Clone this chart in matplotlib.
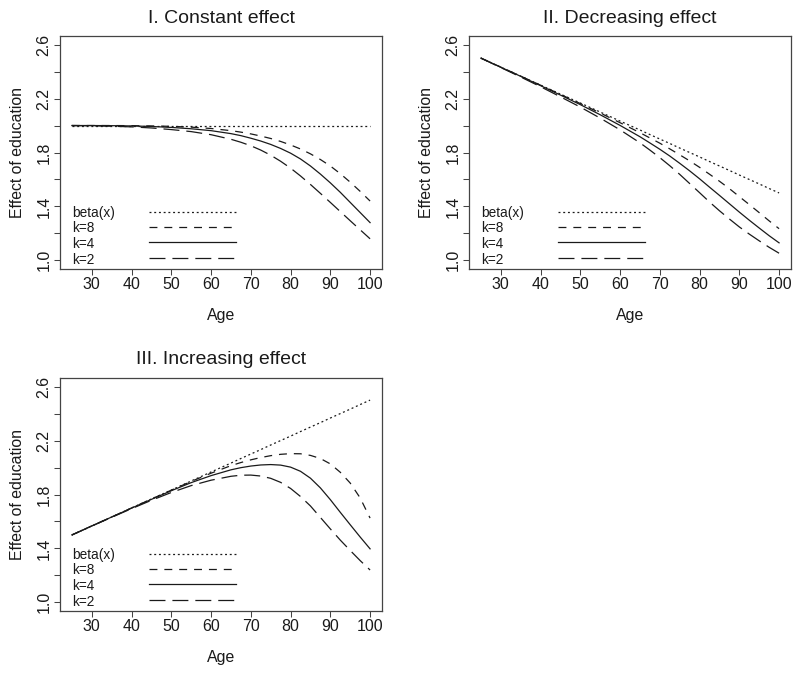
import matplotlib
matplotlib.use("Agg")
import matplotlib.pyplot as plt

plt.rcParams['font.family'] = ['Liberation Sans', 'DejaVu Sans']
plt.rcParams['lines.scale_dashes'] = False

ages = [25, 30, 35, 40, 45, 50, 55, 60, 65, 67.5, 70, 72.5, 75, 77.5, 80,
        82.5, 85, 87.5, 90, 92.5, 95, 97.5, 100]

# I. Constant effect
const_beta = [2.000, 2.000, 2.000, 2.000, 2.000, 2.000, 2.000, 2.000, 2.000, 2.000, 2.000, 2.000,
              2.000, 2.000, 2.000, 2.000, 2.000, 2.000, 2.000, 2.000, 2.000, 2.000, 2.000]
const_k8 = [2.000, 2.000, 2.000, 1.999, 1.997, 1.994, 1.988, 1.978, 1.962, 1.951, 1.938, 1.922,
            1.904, 1.882, 1.856, 1.826, 1.790, 1.748, 1.700, 1.643, 1.580, 1.512, 1.440]
const_k4 = [2.000, 2.000, 1.999, 1.997, 1.993, 1.986, 1.976, 1.962, 1.940, 1.925, 1.906, 1.885,
            1.860, 1.830, 1.795, 1.752, 1.700, 1.640, 1.575, 1.505, 1.430, 1.355, 1.280]
const_k2 = [2.000, 1.998, 1.995, 1.990, 1.982, 1.970, 1.955, 1.932, 1.898, 1.876, 1.850, 1.818,
            1.780, 1.735, 1.684, 1.626, 1.563, 1.497, 1.430, 1.362, 1.294, 1.227, 1.160]

# II. Decreasing effect
dec_beta = [2.500, 2.433, 2.367, 2.300, 2.233, 2.167, 2.100, 2.033, 1.967, 1.933, 1.900, 1.867,
            1.833, 1.800, 1.767, 1.733, 1.700, 1.667, 1.633, 1.600, 1.567, 1.533, 1.500]
dec_k8 = [2.500, 2.433, 2.366, 2.299, 2.231, 2.163, 2.093, 2.021, 1.947, 1.908, 1.869, 1.827,
          1.783, 1.738, 1.690, 1.639, 1.587, 1.532, 1.473, 1.414, 1.354, 1.293, 1.235]
dec_k4 = [2.500, 2.432, 2.365, 2.296, 2.226, 2.155, 2.080, 2.001, 1.917, 1.871, 1.824, 1.774,
          1.720, 1.664, 1.605, 1.543, 1.482, 1.420, 1.358, 1.298, 1.240, 1.183, 1.130]
dec_k2 = [2.500, 2.430, 2.360, 2.288, 2.213, 2.137, 2.055, 1.968, 1.872, 1.818, 1.762, 1.702,
          1.638, 1.570, 1.502, 1.433, 1.368, 1.307, 1.248, 1.195, 1.145, 1.097, 1.053]

# III. Increasing effect
inc_beta = [1.500, 1.567, 1.633, 1.700, 1.767, 1.833, 1.900, 1.967, 2.033, 2.067, 2.100, 2.133,
            2.167, 2.200, 2.233, 2.267, 2.300, 2.333, 2.367, 2.400, 2.433, 2.467, 2.500]
inc_k8 = [1.500, 1.567, 1.633, 1.700, 1.766, 1.832, 1.897, 1.958, 2.014, 2.037, 2.057, 2.074,
          2.088, 2.098, 2.103, 2.102, 2.090, 2.067, 2.027, 1.965, 1.885, 1.775, 1.625]
inc_k4 = [1.500, 1.567, 1.633, 1.699, 1.764, 1.828, 1.888, 1.940, 1.983, 1.999, 2.011, 2.019,
          2.022, 2.018, 2.003, 1.972, 1.921, 1.849, 1.762, 1.668, 1.576, 1.485, 1.397]
inc_k2 = [1.500, 1.566, 1.631, 1.695, 1.757, 1.815, 1.866, 1.906, 1.935, 1.943, 1.944, 1.937,
          1.920, 1.890, 1.845, 1.785, 1.715, 1.630, 1.545, 1.462, 1.385, 1.310, 1.240]

titles = ["I. Constant effect", "II. Decreasing effect", "III. Increasing effect"]
series_names = ["beta(x)", "k=8", "k=4", "k=2"]
panels = [
    [const_beta, const_k8, const_k4, const_k2],
    [dec_beta, dec_k8, dec_k4, dec_k2],
    [inc_beta, inc_k8, inc_k4, inc_k2],
]
x_ticks = [30, 40, 50, 60, 70, 80, 90, 100]
y_ticks = [1.0, 1.2, 1.4, 1.6, 1.8, 2.0, 2.2, 2.4, 2.6]
y_ticklabels = ["1.0", "", "1.4", "", "1.8", "", "2.2", "", "2.6"]

# line styles (dash patterns in points)
styles = [
    dict(linestyle=(0, (1.4, 2.0))),
    dict(linestyle=(0, (5.7, 5.0))),
    dict(linestyle='-'),
    dict(linestyle=(0, (11.5, 5.0))),
]

W, H = 800, 673
fig = plt.figure(figsize=(W / 100, H / 100), dpi=100)
boxes = [
    (60, 36, 322, 233),
    (469, 36, 322, 233),
    (60, 378, 322, 233),
]
title_pads = [9.5, 9.5, 10.0]

ink = '#1a1a1a'
frame = '#444444'

for i, (title, data, (bx, by, bw, bh)) in enumerate(zip(titles, panels, boxes)):
    ax = fig.add_axes([bx / W, 1 - (by + bh) / H, bw / W, bh / H])
    for vals, st in zip(data, styles):
        ax.plot(ages, vals, color=ink, linewidth=0.9, **st)
    ax.set_xlim(22, 103)
    ax.set_ylim(0.936, 2.664)
    ax.set_xticks(x_ticks)
    ax.set_yticks(y_ticks)
    ax.set_yticklabels(y_ticklabels)
    ax.tick_params(axis='both', direction='out', length=4.3, width=0.75,
                   color=frame, labelsize=11.5, labelcolor=ink)
    ax.tick_params(axis='x', pad=1.5)
    ax.tick_params(axis='y', pad=2)
    plt.setp(ax.get_yticklabels(), rotation=90, va='center')
    for sp in ax.spines.values():
        sp.set_color(frame)
        sp.set_linewidth(0.9)
    ax.set_title(title, fontsize=14, color=ink, pad=title_pads[i])
    ax.set_xlabel("Age", fontsize=11.4, color=ink, labelpad=11.3)
    ax.set_ylabel("Effect of education", fontsize=11.4, color=ink, labelpad=8.0)

    # legend (text left, key to the right), drawn in data coordinates
    row_y = [1.362, 1.248, 1.133, 1.017]
    for name, st, yy in zip(series_names, styles, row_y):
        ax.text(25.0, yy, name, fontsize=9.8, color=ink, ha='left', va='center_baseline')
        ax.plot([44.4, 66.3], [yy, yy], color=ink, linewidth=0.9, **st)

fig.savefig("out.png", dpi=100)
